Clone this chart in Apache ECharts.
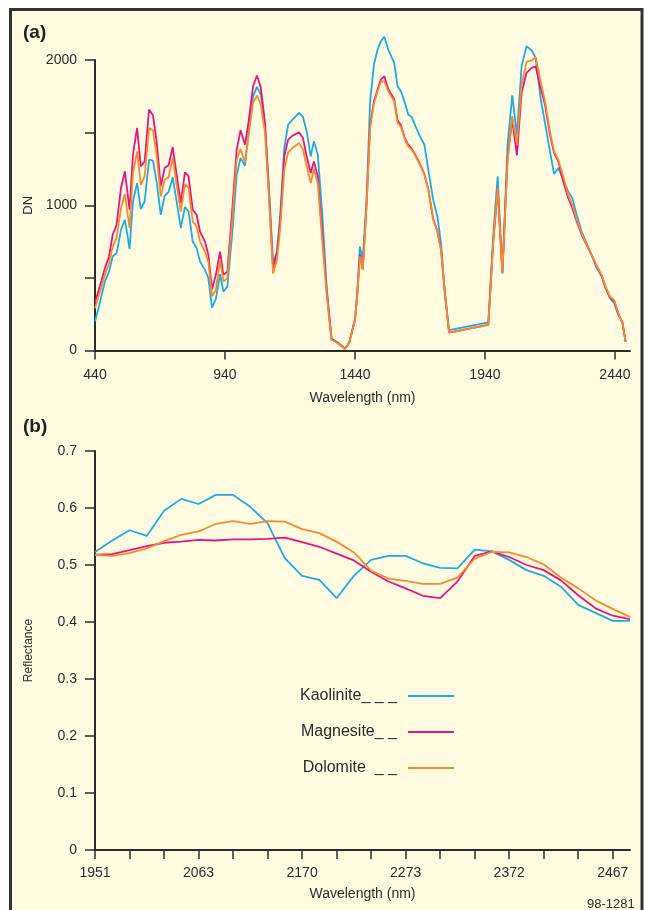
<!DOCTYPE html>
<html>
<head>
<meta charset="utf-8">
<script src="https://cdn.jsdelivr.net/npm/echarts@6/dist/echarts.min.js"></script>
<style>
  html, body { margin: 0; padding: 0; background: #fff; }
  #chart { width: 645px; height: 910px; }
</style>
</head>
<body>
<div id="chart"></div>
<script>
// (a) 光谱 DN 与波长
const wavelengthsA = [
  440, 460, 478, 494, 508, 523, 540, 555, 573, 586, 602, 616, 631, 648, 663, 677, 693, 708, 723, 739,
  754, 770, 786, 800, 816, 831, 844, 863, 876, 890, 905, 921, 934, 949,
  968, 985, 1000, 1017, 1032, 1048, 1063, 1078, 1094, 1109, 1125, 1140, 1153, 1168, 1183, 1200,
  1225, 1240, 1254, 1270, 1282, 1297, 1314, 1332, 1350, 1376, 1402, 1418, 1427,
  1440, 1449, 1459, 1470, 1485, 1498, 1513, 1527, 1540, 1553, 1568, 1591, 1604, 1617, 1632, 1645,
  1658, 1673, 1690, 1707, 1722, 1741, 1757, 1771, 1786, 1802,
  1953, 1972, 1989, 2007, 2027, 2045, 2063, 2081, 2100, 2120, 2135, 2154, 2171, 2190, 2206, 2222,
  2241, 2260, 2276, 2293, 2312, 2331, 2350, 2370, 2389, 2404, 2421, 2437, 2453, 2469, 2481
]
const kaoliniteA = [
  199, 337, 474, 543, 647, 670, 831, 900, 700, 1026, 1153, 974, 1026, 1314, 1307, 1164, 934, 1066, 1091, 1192,
  1026, 843, 988, 957, 750, 705, 612, 555, 498, 295, 355, 526, 406, 440,
  808, 1210, 1326, 1272, 1521, 1750, 1815, 1762, 1543, 1130, 601, 681, 946, 1394, 1555, 1590,
  1636, 1608, 1509, 1337, 1440, 1348, 946, 417, 84, 52, 14, 56, 122,
  215, 400, 716, 624, 1061, 1705, 1969, 2072, 2130, 2160, 2072, 1981, 1819, 1785, 1705,
  1624, 1608, 1543, 1474, 1417, 1245, 1038, 923, 739, 394, 141,
  194, 797, 1199, 532, 1417, 1757, 1486, 1957, 2095, 2066, 2015, 1739, 1567, 1371, 1215, 1257,
  1176, 1095, 1050, 934, 819, 739, 659, 567, 509, 429, 360, 326, 245, 194, 61
]
const magnesiteA = [
  330, 450, 567, 647, 797, 866, 1119, 1233, 969, 1348, 1532, 1268, 1302, 1659, 1620, 1440, 1130, 1257, 1275, 1401,
  1210, 1015, 1226, 1199, 969, 934, 819, 750, 659, 420, 521, 681, 521, 543,
  969, 1383, 1516, 1417, 1590, 1819, 1893, 1808, 1567, 1084, 567, 670, 900, 1337, 1452, 1479,
  1502, 1463, 1337, 1222, 1302, 1199, 808, 394, 77, 50, 12, 54, 118,
  210, 390, 660, 555, 1015, 1543, 1716, 1797, 1866, 1888, 1801, 1728, 1585, 1550, 1460,
  1417, 1390, 1345, 1285, 1215, 1110, 905, 822, 695, 394, 123,
  176, 750, 1119, 532, 1326, 1590, 1343, 1774, 1912, 1946, 1957, 1808, 1693, 1486, 1360, 1303,
  1164, 1050, 981, 888, 797, 728, 659, 580, 515, 435, 366, 340, 252, 190, 61
]
const dolomiteA = [
  291, 410, 521, 601, 716, 774, 981, 1077, 843, 1222, 1371, 1141, 1199, 1532, 1514, 1348, 1061, 1176, 1192, 1326,
  1141, 957, 1146, 1119, 888, 854, 750, 681, 612, 375, 417, 624, 474, 498,
  900, 1314, 1387, 1295, 1498, 1705, 1755, 1693, 1498, 1061, 528, 624, 854, 1245, 1364, 1394,
  1429, 1383, 1268, 1153, 1250, 1153, 762, 371, 72, 48, 10, 54, 118,
  205, 385, 647, 555, 1010, 1530, 1700, 1785, 1850, 1854, 1785, 1716, 1567, 1539, 1452,
  1406, 1383, 1337, 1279, 1210, 1107, 900, 819, 693, 394, 123,
  176, 750, 1119, 532, 1302, 1613, 1417, 1831, 1987, 1997, 2020, 1854, 1716, 1509, 1371, 1314,
  1199, 1072, 1003, 900, 808, 728, 659, 585, 521, 440, 371, 348, 257, 188, 61
]
const tickValuesA = [440, 940, 1440, 1940, 2440]

// (b) 反射率，按波段序号 0..31
const kaoliniteB = [
  0.523, 0.543, 0.561, 0.551, 0.595, 0.616, 0.607, 0.623, 0.623, 0.602, 0.573, 0.512, 0.481, 0.474, 0.442, 0.481,
  0.509, 0.516, 0.516, 0.503, 0.495, 0.494, 0.527, 0.524, 0.509, 0.491, 0.481, 0.462, 0.430, 0.416, 0.402, 0.402
]
const magnesiteB = [
  0.518, 0.519, 0.526, 0.533, 0.539, 0.541, 0.544, 0.543, 0.545, 0.545, 0.546, 0.548, 0.540, 0.532, 0.520, 0.508,
  0.488, 0.471, 0.459, 0.446, 0.442, 0.471, 0.516, 0.524, 0.514, 0.500, 0.491, 0.473, 0.447, 0.424, 0.411, 0.405
]
const dolomiteB = [
  0.518, 0.516, 0.521, 0.529, 0.542, 0.553, 0.559, 0.572, 0.577, 0.572, 0.577, 0.576, 0.563, 0.556, 0.541, 0.522,
  0.490, 0.476, 0.472, 0.467, 0.467, 0.478, 0.511, 0.523, 0.522, 0.514, 0.501, 0.478, 0.459, 0.438, 0.423, 0.409
]
const tickLabelsB = ['1951', '2063', '2170', '2273', '2372', '2467']

const seriesNames = ['Kaolinite', 'Magnesite', 'Dolomite']
const legendLabels = ['Kaolinite_ _ _', 'Magnesite_ _', 'Dolomite  _ _']
const colors = ['#1cace4', '#e3167f', '#f58b2d']

const font = '"Liberation Sans", Arial, sans-serif'
const ink = '#2b2b2b'

const axisBase = {
  axisLine: { lineStyle: { color: ink, width: 2 } },
  axisTick: { length: 9, lineStyle: { color: ink, width: 1.5 } },
  splitLine: { show: false },
  axisLabel: { color: ink, fontFamily: font, fontSize: 14, formatter: v => String(v) },
  nameTextStyle: { color: ink, fontFamily: font, fontSize: 14 },
  nameMoveOverlap: false
}

function merge (extra) {
  const out = Object.assign({}, axisBase, extra)
  out.axisLabel = Object.assign({}, axisBase.axisLabel, extra.axisLabel)
  out.axisTick = Object.assign({}, axisBase.axisTick, extra.axisTick)
  out.nameTextStyle = Object.assign({}, axisBase.nameTextStyle, extra.nameTextStyle)
  return out
}

const chart = echarts.init(document.getElementById('chart'), null, { renderer: 'canvas' })

const dataA = [kaoliniteA, magnesiteA, dolomiteA]
const dataB = [kaoliniteB, magnesiteB, dolomiteB]

const series = []
seriesNames.forEach((name, k) => {
  series.push({
    name,
    type: 'line',
    xAxisIndex: 0,
    yAxisIndex: 0,
    data: wavelengthsA.map((w, i) => [w, dataA[k][i]]),
    showSymbol: false,
    clip: false,
    color: colors[k],
    lineStyle: { width: 1.8 },
    animation: false
  })
})
seriesNames.forEach((name, k) => {
  series.push({
    name,
    type: 'line',
    xAxisIndex: 1,
    yAxisIndex: 1,
    data: dataB[k].map((v, i) => [i, v]),
    showSymbol: false,
    color: colors[k],
    lineStyle: { width: 1.8 },
    animation: false
  })
})

chart.setOption({
  backgroundColor: '#fff',
  animation: false,
  graphic: [
    {
      type: 'rect',
      z: -10,
      shape: { x: 10.5, y: 9.5, width: 631.5, height: 940 },
      style: { fill: '#fffbe0', stroke: '#333', lineWidth: 3 }
    },
    {
      type: 'text',
      left: 587,
      top: 898,
      style: { text: '98-1281', fill: ink, font: '13px ' + font }
    }
  ],
  title: [
    { text: '(a)', left: 23, top: 23, padding: 0, textStyle: { fontFamily: font, fontSize: 19, fontWeight: 'bold', color: '#222' } },
    { text: '(b)', left: 23, top: 417, padding: 0, textStyle: { fontFamily: font, fontSize: 19, fontWeight: 'bold', color: '#222' } }
  ],
  legend: {
    orient: 'vertical',
    left: 300,
    top: 688,
    padding: 0,
    align: 'right',
    data: seriesNames,
    icon: 'rect',
    itemWidth: 46,
    itemHeight: 2,
    itemGap: 20,
    selectedMode: false,
    formatter: name => legendLabels[seriesNames.indexOf(name)],
    textStyle: { fontFamily: font, fontSize: 16, color: ink, padding: [0, 6, 0, 0] }
  },
  grid: [
    { left: 95, top: 60, width: 535, height: 290.5 },
    { left: 95, top: 451, width: 535, height: 399 }
  ],
  xAxis: [
    merge({
      type: 'value',
      gridIndex: 0,
      min: 440,
      max: 2498,
      name: 'Wavelength (nm)',
      nameLocation: 'middle',
      nameGap: 41,
      axisTick: { customValues: tickValuesA },
      axisLabel: { customValues: tickValuesA, margin: 18 }
    }),
    merge({
      type: 'value',
      gridIndex: 1,
      min: 0,
      max: 31,
      name: 'Wavelength (nm)',
      nameLocation: 'middle',
      nameGap: 37,
      axisTick: { customValues: Array.from({ length: 16 }, (_, k) => 2 * k) },
      axisLabel: {
        customValues: tickLabelsB.map((_, k) => 6 * k),
        formatter: v => tickLabelsB[Math.round(v / 6)],
        margin: 16
      }
    })
  ],
  yAxis: [
    merge({
      type: 'value',
      gridIndex: 0,
      min: 0,
      max: 2000,
      interval: 500,
      name: 'DN',
      nameLocation: 'middle',
      nameGap: 60,
      nameTextStyle: { fontSize: 13 },
      axisTick: { length: 10 },
      axisLabel: { customValues: [0, 1000, 2000], margin: 18 }
    }),
    merge({
      type: 'value',
      gridIndex: 1,
      min: 0,
      max: 0.7,
      interval: 0.1,
      name: 'Reflectance',
      nameLocation: 'middle',
      nameGap: 60,
      nameTextStyle: { fontSize: 12 },
      axisTick: { length: 10 },
      axisLabel: { formatter: v => (v === 0 ? '0' : v.toFixed(1)), margin: 18 }
    })
  ],
  series
})
</script>
</body>
</html>
